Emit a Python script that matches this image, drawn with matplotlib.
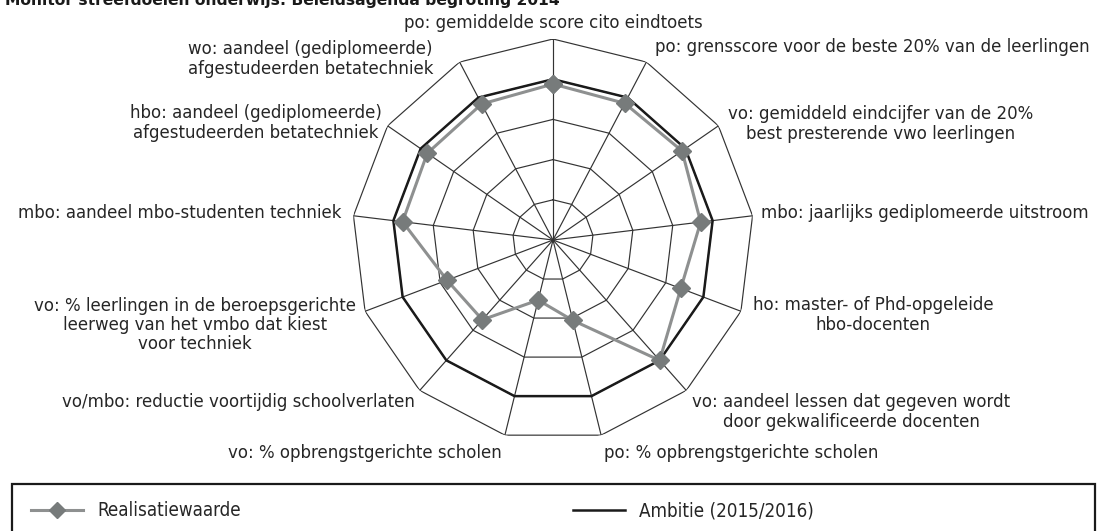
import numpy as np
import matplotlib
matplotlib.use("Agg")
import matplotlib.pyplot as plt
from matplotlib.patches import Rectangle

# data
labels = [
    "po: gemiddelde score cito eindtoets",
    "po: grensscore voor de beste 20% van de leerlingen",
    "vo: gemiddeld eindcijfer van de 20%\nbest presterende vwo leerlingen",
    "mbo: jaarlijks gediplomeerde uitstroom",
    "ho: master- of Phd-opgeleide\nhbo-docenten",
    "vo: aandeel lessen dat gegeven wordt\ndoor gekwalificeerde docenten",
    "po: % opbrengstgerichte scholen",
    "vo: % opbrengstgerichte scholen",
    "vo/mbo: reductie voortijdig schoolverlaten",
    "vo: % leerlingen in de beroepsgerichte\nleerweg van het vmbo dat kiest\nvoor techniek",
    "mbo: aandeel mbo-studenten techniek",
    "hbo: aandeel (gediplomeerde)\nafgestudeerden betatechniek",
    "wo: aandeel (gediplomeerde)\nafgestudeerden betatechniek",
]
realisatie = [3.88, 3.84, 3.9, 3.7, 3.4, 4.0, 2.06, 1.54, 2.65, 2.82, 3.77, 3.8, 3.82]
ambitie = [4] * 13
rings = [1, 2, 3, 4, 5]

# label anchors in pixels (x, y from top, ha)
label_pos = [
    (553, 23, "center"), (655, 47, "left"), (728, 124, "left"),
    (761, 213, "left"), (753, 315, "left"), (692, 412, "left"),
    (604, 453, "left"), (502, 453, "right"), (415, 402, "right"),
    (356, 325, "right"), (342, 213, "right"), (382, 123, "right"),
    (433, 59, "right"),
]

W, H = 1099, 531
fig = plt.figure(figsize=(W / 100, H / 100), dpi=100)
fig.patch.set_facecolor("white")

cx, cy, R = 553, 240, 201
ax = fig.add_axes([(cx - R) / W, (H - cy - R) / H, 2 * R / W, 2 * R / H],
                  projection="polar")
ax.set_theta_zero_location("N")
ax.set_theta_direction(-1)
ax.set_ylim(0, 5)
ax.grid(False)
ax.set_xticks([])
ax.set_yticks([])
ax.spines["polar"].set_visible(False)
ax.patch.set_alpha(0)

n = len(labels)
theta = np.linspace(0, 2 * np.pi, n, endpoint=False)
closed = np.append(theta, theta[0])

grid_col = "#333333"
for r in rings:
    ax.plot(closed, [r] * (n + 1), color=grid_col, lw=0.85, zorder=1)
for t in theta:
    ax.plot([t, t], [0, rings[-1]], color=grid_col, lw=0.85, zorder=1)

amb, = ax.plot(closed, ambitie + ambitie[:1], color="#1a1a1a", lw=1.8, zorder=2)
real, = ax.plot(closed, realisatie + realisatie[:1], color="#8e9090", lw=2.2,
                marker="D", markersize=9, markerfacecolor="#777b7b",
                markeredgecolor="#777b7b", zorder=3)

txt_col = "#262626"
for lab, (x, y, ha) in zip(labels, label_pos):
    fig.text(x / W, 1 - y / H, lab, ha=ha, va="center", multialignment="center",
             fontsize=12, color=txt_col, linespacing=1.1)

# title, cut off at the top edge as in the source
fig.text(5 / W, 1 - 1 / H, "Monitor streefdoelen onderwijs: Beleidsagenda begroting 2014",
         ha="left", va="center", fontsize=11.2, fontweight="bold", color="#1a1a1a")

# legend box
fig.patches.append(Rectangle((12 / W, -0.05), 1083 / W, (531 - 484) / H + 0.05,
                             transform=fig.transFigure, fill=False,
                             edgecolor="#1a1a1a", lw=1.6))
leg_font = {"family": ["DejaVu Sans"], "size": 13.5, "stretch": "condensed"}
fig.legend([real], ["Realisatiewaarde"], loc="center left",
           bbox_to_anchor=(14 / W, 1 - 511 / H), frameon=False,
           handlelength=2.8, handletextpad=0.75, markerscale=0.85,
           prop=leg_font, labelcolor=txt_col)
fig.legend([amb], ["Ambitie (2015/2016)"], loc="center left",
           bbox_to_anchor=(556 / W, 1 - 511 / H), frameon=False,
           handlelength=2.8, handletextpad=0.75,
           prop=leg_font, labelcolor=txt_col)

fig.savefig("out.png", dpi=100, facecolor="white")
